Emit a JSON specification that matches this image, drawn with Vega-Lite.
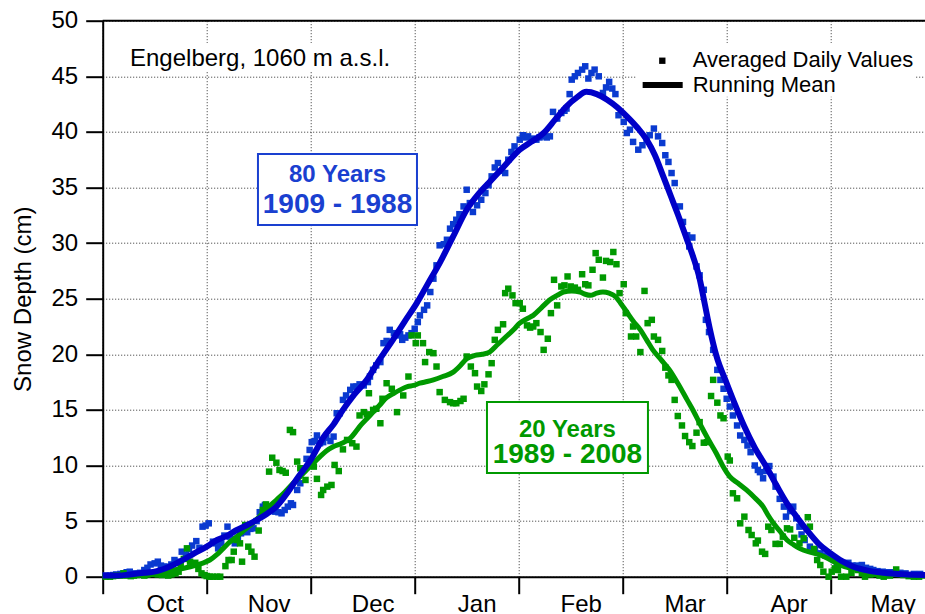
{
"$schema": "https://vega.github.io/schema/vega-lite/v6.json",
"width": 822.3, "height": 556,
"autosize": {"type": "none"},
"padding": {"left": 102.7, "top": 20.7, "right": 0, "bottom": 37.3},
"background": "white",
"config": {"view": {"stroke": null}, "font": "Liberation Sans", "text": {"font": "Liberation Sans"}},
"datasets": {
"bluePts": [
{"x":0.03,"y":0.1},{"x":0.07,"y":0.1},{"x":0.1,"y":0.15},{"x":0.13,"y":0.2},{"x":0.17,"y":0.25},{"x":0.2,"y":0.3},{"x":0.23,"y":0.4},{"x":0.26,"y":0.45},{"x":0.3,"y":0.3},{"x":0.33,"y":0.2},{"x":0.36,"y":0.35},{"x":0.4,"y":0.6},{"x":0.43,"y":0.8},{"x":0.46,"y":1.1},{"x":0.5,"y":1.2},{"x":0.53,"y":1.35},{"x":0.56,"y":1.0},{"x":0.59,"y":0.9},{"x":0.62,"y":0.9},{"x":0.66,"y":1.1},{"x":0.69,"y":1.5},{"x":0.73,"y":1.35},{"x":0.76,"y":2.25},{"x":0.8,"y":2.0},{"x":0.83,"y":2.5},{"x":0.86,"y":2.8},{"x":0.9,"y":3.2},{"x":0.93,"y":2.6},{"x":0.96,"y":4.5},{"x":0.99,"y":4.6},{"x":1.02,"y":4.8},{"x":1.06,"y":3.15},{"x":1.09,"y":3.0},{"x":1.11,"y":2.55},{"x":1.14,"y":3.0},{"x":1.17,"y":3.7},{"x":1.2,"y":4.5},{"x":1.22,"y":3.6},{"x":1.25,"y":3.4},{"x":1.27,"y":3.0},{"x":1.3,"y":3.5},{"x":1.33,"y":3.9},{"x":1.36,"y":4.2},{"x":1.39,"y":4.0},{"x":1.42,"y":4.3},{"x":1.45,"y":4.35},{"x":1.48,"y":5.0},{"x":1.51,"y":5.8},{"x":1.54,"y":6.3},{"x":1.56,"y":6.45},{"x":1.59,"y":6.2},{"x":1.62,"y":5.9},{"x":1.66,"y":5.85},{"x":1.69,"y":5.8},{"x":1.72,"y":5.7},{"x":1.75,"y":6.0},{"x":1.78,"y":6.3},{"x":1.81,"y":6.6},{"x":1.83,"y":6.45},{"x":1.87,"y":7.8},{"x":1.9,"y":8.4},{"x":1.93,"y":9.75},{"x":1.96,"y":10.6},{"x":1.99,"y":11.4},{"x":2.01,"y":12.1},{"x":2.04,"y":12.2},{"x":2.06,"y":12.7},{"x":2.09,"y":12.0},{"x":2.12,"y":12.1},{"x":2.15,"y":12.5},{"x":2.19,"y":12.2},{"x":2.22,"y":12.6},{"x":2.25,"y":14.7},{"x":2.28,"y":14.7},{"x":2.31,"y":15.9},{"x":2.34,"y":16.3},{"x":2.38,"y":16.8},{"x":2.41,"y":17.1},{"x":2.44,"y":17.1},{"x":2.47,"y":17.3},{"x":2.51,"y":17.2},{"x":2.55,"y":17.5},{"x":2.57,"y":18.0},{"x":2.6,"y":18.6},{"x":2.63,"y":19.0},{"x":2.67,"y":19.3},{"x":2.7,"y":21.0},{"x":2.73,"y":21.2},{"x":2.76,"y":22.2},{"x":2.8,"y":21.9},{"x":2.83,"y":21.7},{"x":2.86,"y":21.8},{"x":2.88,"y":21.3},{"x":2.91,"y":21.5},{"x":2.94,"y":21.7},{"x":2.97,"y":21.9},{"x":3.0,"y":22.3},{"x":3.03,"y":22.9},{"x":3.05,"y":23.5},{"x":3.09,"y":24.0},{"x":3.12,"y":24.4},{"x":3.15,"y":25.6},{"x":3.18,"y":26.8},{"x":3.21,"y":28.0},{"x":3.24,"y":29.8},{"x":3.28,"y":29.9},{"x":3.31,"y":30.3},{"x":3.34,"y":31.3},{"x":3.37,"y":31.7},{"x":3.4,"y":32.1},{"x":3.43,"y":32.6},{"x":3.47,"y":33.3},{"x":3.5,"y":34.8},{"x":3.53,"y":33.6},{"x":3.56,"y":32.8},{"x":3.6,"y":33.4},{"x":3.64,"y":33.9},{"x":3.68,"y":34.5},{"x":3.71,"y":35.2},{"x":3.74,"y":36.0},{"x":3.77,"y":36.8},{"x":3.8,"y":37.2},{"x":3.84,"y":36.5},{"x":3.87,"y":36.3},{"x":3.9,"y":37.5},{"x":3.93,"y":38.2},{"x":3.96,"y":38.7},{"x":4.01,"y":39.3},{"x":4.04,"y":39.7},{"x":4.07,"y":39.5},{"x":4.09,"y":39.6},{"x":4.13,"y":39.4},{"x":4.17,"y":39.3},{"x":4.2,"y":39.5},{"x":4.24,"y":39.6},{"x":4.27,"y":39.5},{"x":4.3,"y":39.6},{"x":4.33,"y":41.8},{"x":4.37,"y":41.2},{"x":4.41,"y":41.7},{"x":4.44,"y":41.9},{"x":4.46,"y":42.1},{"x":4.49,"y":43.4},{"x":4.51,"y":44.7},{"x":4.54,"y":45.0},{"x":4.57,"y":45.3},{"x":4.61,"y":45.6},{"x":4.64,"y":45.9},{"x":4.67,"y":44.8},{"x":4.7,"y":45.3},{"x":4.73,"y":45.6},{"x":4.77,"y":45.0},{"x":4.81,"y":43.5},{"x":4.84,"y":44.0},{"x":4.87,"y":44.5},{"x":4.9,"y":43.9},{"x":4.93,"y":43.4},{"x":4.96,"y":41.5},{"x":5.01,"y":40.9},{"x":5.04,"y":39.9},{"x":5.07,"y":40.2},{"x":5.1,"y":39.1},{"x":5.15,"y":38.4},{"x":5.19,"y":38.8},{"x":5.23,"y":39.3},{"x":5.26,"y":39.7},{"x":5.3,"y":40.3},{"x":5.34,"y":39.6},{"x":5.38,"y":39.0},{"x":5.41,"y":37.9},{"x":5.44,"y":37.3},{"x":5.47,"y":36.3},{"x":5.5,"y":35.4},{"x":5.55,"y":33.3},{"x":5.58,"y":31.9},{"x":5.62,"y":30.7},{"x":5.64,"y":29.7},{"x":5.67,"y":30.5},{"x":5.71,"y":27.9},{"x":5.74,"y":27.1},{"x":5.78,"y":25.8},{"x":5.8,"y":23.1},{"x":5.83,"y":22.0},{"x":5.87,"y":20.4},{"x":5.91,"y":18.6},{"x":5.94,"y":17.7},{"x":5.97,"y":16.9},{"x":6.0,"y":16.0},{"x":6.03,"y":15.3},{"x":6.06,"y":14.5},{"x":6.1,"y":13.6},{"x":6.13,"y":12.7},{"x":6.17,"y":12.3},{"x":6.2,"y":11.8},{"x":6.23,"y":11.2},{"x":6.27,"y":10.0},{"x":6.3,"y":9.6},{"x":6.32,"y":9.4},{"x":6.35,"y":8.85},{"x":6.38,"y":9.5},{"x":6.41,"y":9.95},{"x":6.45,"y":9.0},{"x":6.47,"y":8.1},{"x":6.51,"y":7.0},{"x":6.55,"y":6.3},{"x":6.57,"y":5.4},{"x":6.61,"y":5.9},{"x":6.64,"y":6.3},{"x":6.67,"y":5.25},{"x":6.7,"y":4.5},{"x":6.72,"y":3.8},{"x":6.75,"y":3.3},{"x":6.8,"y":2.7},{"x":6.85,"y":2.4},{"x":6.9,"y":2.1},{"x":6.95,"y":1.9},{"x":7.0,"y":1.8},{"x":7.03,"y":1.5},{"x":7.06,"y":1.2},{"x":7.1,"y":1.1},{"x":7.13,"y":1.2},{"x":7.17,"y":1.25},{"x":7.21,"y":1.0},{"x":7.25,"y":1.0},{"x":7.3,"y":1.05},{"x":7.34,"y":0.8},{"x":7.38,"y":0.7},{"x":7.41,"y":0.6},{"x":7.45,"y":0.5},{"x":7.5,"y":0.45},{"x":7.55,"y":0.4},{"x":7.6,"y":0.4},{"x":7.67,"y":0.35},{"x":7.72,"y":0.3},{"x":7.8,"y":0.25},{"x":7.86,"y":0.25}
],
"greenPts": [
{"x":0.03,"y":0.0},{"x":0.07,"y":0.0},{"x":0.1,"y":0.05},{"x":0.13,"y":0.1},{"x":0.17,"y":0.1},{"x":0.2,"y":0.3},{"x":0.23,"y":0.1},{"x":0.27,"y":0.05},{"x":0.3,"y":0.1},{"x":0.33,"y":0.15},{"x":0.37,"y":0.2},{"x":0.4,"y":0.1},{"x":0.43,"y":0.2},{"x":0.47,"y":0.25},{"x":0.5,"y":0.3},{"x":0.53,"y":0.2},{"x":0.57,"y":0.15},{"x":0.6,"y":0.3},{"x":0.63,"y":0.1},{"x":0.66,"y":0.2},{"x":0.7,"y":0.3},{"x":0.73,"y":0.45},{"x":0.75,"y":1.05},{"x":0.78,"y":1.6},{"x":0.81,"y":2.55},{"x":0.84,"y":1.35},{"x":0.87,"y":1.1},{"x":0.89,"y":1.25},{"x":0.92,"y":0.7},{"x":0.95,"y":0.3},{"x":0.98,"y":0.15},{"x":1.0,"y":0.06},{"x":1.03,"y":0.0},{"x":1.06,"y":0.0},{"x":1.1,"y":0.0},{"x":1.13,"y":0.0},{"x":1.18,"y":0.95},{"x":1.21,"y":1.5},{"x":1.24,"y":1.5},{"x":1.26,"y":2.25},{"x":1.29,"y":3.3},{"x":1.32,"y":3.0},{"x":1.34,"y":1.35},{"x":1.37,"y":4.65},{"x":1.4,"y":2.7},{"x":1.43,"y":2.25},{"x":1.46,"y":1.8},{"x":1.5,"y":4.15},{"x":1.54,"y":6.0},{"x":1.57,"y":6.5},{"x":1.6,"y":9.45},{"x":1.63,"y":10.7},{"x":1.67,"y":10.25},{"x":1.7,"y":9.6},{"x":1.73,"y":9.5},{"x":1.76,"y":9.35},{"x":1.8,"y":13.2},{"x":1.83,"y":13.0},{"x":1.87,"y":10.35},{"x":1.9,"y":9.75},{"x":1.95,"y":8.7},{"x":1.99,"y":10.05},{"x":2.03,"y":9.9},{"x":2.06,"y":8.8},{"x":2.1,"y":7.35},{"x":2.12,"y":7.8},{"x":2.16,"y":8.1},{"x":2.2,"y":8.25},{"x":2.23,"y":10.05},{"x":2.27,"y":9.5},{"x":2.31,"y":11.45},{"x":2.35,"y":12.3},{"x":2.4,"y":12.0},{"x":2.44,"y":11.7},{"x":2.47,"y":14.5},{"x":2.51,"y":14.8},{"x":2.54,"y":14.6},{"x":2.56,"y":16.5},{"x":2.6,"y":15.0},{"x":2.63,"y":15.1},{"x":2.67,"y":13.8},{"x":2.69,"y":16.0},{"x":2.73,"y":17.4},{"x":2.78,"y":16.9},{"x":2.83,"y":14.8},{"x":2.89,"y":16.3},{"x":2.94,"y":18.0},{"x":2.97,"y":21.7},{"x":3.01,"y":21.0},{"x":3.03,"y":21.7},{"x":3.08,"y":21.0},{"x":3.1,"y":19.3},{"x":3.14,"y":20.2},{"x":3.18,"y":20.1},{"x":3.21,"y":18.9},{"x":3.24,"y":16.6},{"x":3.29,"y":15.9},{"x":3.34,"y":15.7},{"x":3.37,"y":15.6},{"x":3.4,"y":15.6},{"x":3.44,"y":15.8},{"x":3.47,"y":16.0},{"x":3.5,"y":19.8},{"x":3.54,"y":18.9},{"x":3.58,"y":18.3},{"x":3.6,"y":17.1},{"x":3.64,"y":16.7},{"x":3.67,"y":17.3},{"x":3.71,"y":18.2},{"x":3.74,"y":19.2},{"x":3.77,"y":21.3},{"x":3.8,"y":22.2},{"x":3.85,"y":22.7},{"x":3.87,"y":25.5},{"x":3.9,"y":25.9},{"x":3.94,"y":25.3},{"x":3.97,"y":24.6},{"x":4.01,"y":24.6},{"x":4.04,"y":24.1},{"x":4.08,"y":22.6},{"x":4.11,"y":22.4},{"x":4.14,"y":22.5},{"x":4.17,"y":22.8},{"x":4.21,"y":22.0},{"x":4.24,"y":20.4},{"x":4.28,"y":21.4},{"x":4.31,"y":23.7},{"x":4.34,"y":26.7},{"x":4.37,"y":24.4},{"x":4.41,"y":26.1},{"x":4.44,"y":26.2},{"x":4.47,"y":27.0},{"x":4.5,"y":26.1},{"x":4.54,"y":26.0},{"x":4.57,"y":25.8},{"x":4.61,"y":27.2},{"x":4.64,"y":26.3},{"x":4.67,"y":26.2},{"x":4.71,"y":27.6},{"x":4.74,"y":29.1},{"x":4.77,"y":28.5},{"x":4.81,"y":26.9},{"x":4.84,"y":28.4},{"x":4.88,"y":28.3},{"x":4.91,"y":29.2},{"x":4.94,"y":28.1},{"x":4.97,"y":25.5},{"x":5.01,"y":26.3},{"x":5.03,"y":23.7},{"x":5.08,"y":21.6},{"x":5.1,"y":22.5},{"x":5.13,"y":21.6},{"x":5.17,"y":20.2},{"x":5.21,"y":25.7},{"x":5.24,"y":22.8},{"x":5.28,"y":23.1},{"x":5.3,"y":21.6},{"x":5.34,"y":21.3},{"x":5.38,"y":20.3},{"x":5.41,"y":18.8},{"x":5.44,"y":18.1},{"x":5.47,"y":17.7},{"x":5.5,"y":15.9},{"x":5.53,"y":14.45},{"x":5.57,"y":13.6},{"x":5.6,"y":12.65},{"x":5.64,"y":12.1},{"x":5.67,"y":11.75},{"x":5.71,"y":12.95},{"x":5.74,"y":13.9},{"x":5.78,"y":12.05},{"x":5.81,"y":12.1},{"x":5.85,"y":16.25},{"x":5.87,"y":17.7},{"x":5.91,"y":15.65},{"x":5.94,"y":14.5},{"x":5.97,"y":14.25},{"x":6.01,"y":10.8},{"x":6.03,"y":10.45},{"x":6.06,"y":7.5},{"x":6.1,"y":7.05},{"x":6.13,"y":4.8},{"x":6.17,"y":5.4},{"x":6.21,"y":4.2},{"x":6.24,"y":3.75},{"x":6.28,"y":3.0},{"x":6.3,"y":3.25},{"x":6.34,"y":2.25},{"x":6.37,"y":2.05},{"x":6.4,"y":4.5},{"x":6.43,"y":4.2},{"x":6.47,"y":2.95},{"x":6.51,"y":2.95},{"x":6.54,"y":3.6},{"x":6.58,"y":4.35},{"x":6.61,"y":4.25},{"x":6.65,"y":3.5},{"x":6.7,"y":3.0},{"x":6.74,"y":3.45},{"x":6.78,"y":5.35},{"x":6.8,"y":4.5},{"x":6.84,"y":2.5},{"x":6.87,"y":1.5},{"x":6.9,"y":1.05},{"x":6.93,"y":0.45},{"x":6.98,"y":0.0},{"x":7.01,"y":0.45},{"x":7.04,"y":0.75},{"x":7.07,"y":0.6},{"x":7.1,"y":0.0},{"x":7.15,"y":0.0},{"x":7.2,"y":0.35},{"x":7.26,"y":0.6},{"x":7.3,"y":0.3},{"x":7.33,"y":0.0},{"x":7.38,"y":0.2},{"x":7.43,"y":0.25},{"x":7.47,"y":0.1},{"x":7.51,"y":0.0},{"x":7.57,"y":0.1},{"x":7.63,"y":0.65},{"x":7.7,"y":0.15},{"x":7.75,"y":0.05},{"x":7.8,"y":0.0},{"x":7.85,"y":0.0}
],
"blueMean": [
{"x":0.0,"y":0.1},{"x":0.15,"y":0.1},{"x":0.26,"y":0.2},{"x":0.4,"y":0.35},{"x":0.52,"y":0.5},{"x":0.64,"y":0.9},{"x":0.75,"y":1.4},{"x":0.88,"y":2.1},{"x":1.0,"y":2.7},{"x":1.1,"y":3.3},{"x":1.2,"y":3.7},{"x":1.29,"y":4.2},{"x":1.38,"y":4.6},{"x":1.48,"y":5.1},{"x":1.57,"y":5.6},{"x":1.67,"y":6.3},{"x":1.78,"y":7.6},{"x":1.86,"y":8.7},{"x":1.93,"y":9.6},{"x":2.0,"y":10.5},{"x":2.06,"y":11.5},{"x":2.12,"y":12.5},{"x":2.22,"y":13.7},{"x":2.31,"y":15.0},{"x":2.42,"y":16.4},{"x":2.54,"y":17.7},{"x":2.66,"y":19.5},{"x":2.79,"y":21.3},{"x":2.9,"y":22.9},{"x":3.02,"y":24.6},{"x":3.13,"y":26.4},{"x":3.24,"y":28.2},{"x":3.37,"y":30.6},{"x":3.5,"y":33.0},{"x":3.62,"y":34.5},{"x":3.73,"y":35.6},{"x":3.85,"y":36.8},{"x":4.01,"y":38.4},{"x":4.12,"y":39.1},{"x":4.24,"y":39.9},{"x":4.35,"y":41.1},{"x":4.46,"y":42.3},{"x":4.56,"y":43.1},{"x":4.65,"y":43.6},{"x":4.75,"y":43.4},{"x":4.85,"y":42.9},{"x":4.95,"y":42.2},{"x":5.04,"y":41.4},{"x":5.14,"y":40.4},{"x":5.23,"y":39.3},{"x":5.31,"y":37.9},{"x":5.39,"y":36.0},{"x":5.46,"y":34.3},{"x":5.53,"y":32.6},{"x":5.615,"y":30.4},{"x":5.68,"y":28.7},{"x":5.74,"y":26.8},{"x":5.79,"y":24.5},{"x":5.84,"y":22.2},{"x":5.9,"y":19.9},{"x":6.0,"y":17.4},{"x":6.08,"y":15.5},{"x":6.17,"y":13.5},{"x":6.27,"y":11.6},{"x":6.38,"y":9.9},{"x":6.48,"y":8.2},{"x":6.58,"y":6.6},{"x":6.68,"y":5.3},{"x":6.77,"y":4.2},{"x":6.88,"y":3.0},{"x":7.0,"y":2.1},{"x":7.11,"y":1.4},{"x":7.22,"y":0.9},{"x":7.36,"y":0.55},{"x":7.51,"y":0.36},{"x":7.7,"y":0.22},{"x":7.91,"y":0.15}
],
"greenMean": [
{"x":0.0,"y":0.0},{"x":0.2,"y":0.1},{"x":0.36,"y":0.25},{"x":0.52,"y":0.4},{"x":0.68,"y":0.6},{"x":0.8,"y":0.8},{"x":0.9,"y":1.05},{"x":0.97,"y":1.25},{"x":1.03,"y":1.5},{"x":1.1,"y":2.0},{"x":1.16,"y":2.55},{"x":1.22,"y":3.1},{"x":1.29,"y":3.6},{"x":1.35,"y":4.1},{"x":1.42,"y":4.65},{"x":1.48,"y":5.15},{"x":1.54,"y":5.7},{"x":1.6,"y":6.3},{"x":1.67,"y":6.9},{"x":1.75,"y":7.6},{"x":1.83,"y":8.4},{"x":1.9,"y":9.0},{"x":1.96,"y":9.6},{"x":2.03,"y":10.25},{"x":2.09,"y":10.8},{"x":2.15,"y":11.3},{"x":2.22,"y":11.7},{"x":2.3,"y":12.0},{"x":2.38,"y":12.45},{"x":2.43,"y":13.0},{"x":2.47,"y":13.5},{"x":2.54,"y":14.2},{"x":2.6,"y":14.8},{"x":2.66,"y":15.4},{"x":2.73,"y":16.1},{"x":2.8,"y":16.5},{"x":2.86,"y":16.8},{"x":2.93,"y":17.1},{"x":2.99,"y":17.2},{"x":3.05,"y":17.4},{"x":3.12,"y":17.55},{"x":3.18,"y":17.7},{"x":3.27,"y":18.0},{"x":3.37,"y":18.4},{"x":3.44,"y":19.0},{"x":3.5,"y":19.6},{"x":3.58,"y":19.9},{"x":3.65,"y":20.0},{"x":3.72,"y":20.2},{"x":3.8,"y":20.9},{"x":3.88,"y":21.6},{"x":3.95,"y":22.2},{"x":4.01,"y":22.8},{"x":4.08,"y":23.2},{"x":4.14,"y":23.5},{"x":4.22,"y":24.2},{"x":4.3,"y":24.9},{"x":4.37,"y":25.3},{"x":4.43,"y":25.6},{"x":4.51,"y":25.7},{"x":4.59,"y":25.6},{"x":4.64,"y":25.4},{"x":4.69,"y":25.3},{"x":4.75,"y":25.5},{"x":4.81,"y":25.6},{"x":4.87,"y":25.5},{"x":4.93,"y":25.2},{"x":4.98,"y":24.6},{"x":5.04,"y":23.8},{"x":5.1,"y":23.0},{"x":5.17,"y":22.2},{"x":5.23,"y":21.3},{"x":5.29,"y":20.4},{"x":5.37,"y":19.5},{"x":5.45,"y":18.6},{"x":5.53,"y":17.4},{"x":5.62,"y":15.9},{"x":5.68,"y":14.9},{"x":5.74,"y":13.8},{"x":5.82,"y":12.4},{"x":5.9,"y":11.1},{"x":5.96,"y":10.0},{"x":6.03,"y":9.0},{"x":6.11,"y":8.4},{"x":6.19,"y":7.8},{"x":6.27,"y":7.1},{"x":6.35,"y":6.3},{"x":6.4,"y":5.5},{"x":6.45,"y":4.8},{"x":6.52,"y":4.0},{"x":6.58,"y":3.3},{"x":6.64,"y":2.9},{"x":6.7,"y":2.55},{"x":6.8,"y":2.2},{"x":6.9,"y":1.95},{"x":7.0,"y":1.5},{"x":7.09,"y":1.05},{"x":7.22,"y":0.7},{"x":7.35,"y":0.45},{"x":7.5,"y":0.28},{"x":7.67,"y":0.15},{"x":7.91,"y":0.05}
],
"bg": [
{"x":0.215,"x2":2.81,"y":45.39,"y2":48.0},
{"x":5.135,"x2":7.81,"y":43.17,"y2":48.0}
],
"boxBlue": [{"x":1.493,"x2":3.022,"y":31.63,"y2":38.01}],
"boxGreen": [{"x":3.695,"x2":5.243,"y":9.33,"y2":15.71}],
"blueSmall": [{"x":2.258,"y":35.47,"t":"80 Years"}],
"blueBig": [{"x":2.258,"y":32.72,"t":"1909 - 1988"}],
"greenSmall": [{"x":4.469,"y":12.6,"t":"20 Years"}],
"greenBig": [{"x":4.469,"y":10.22,"t":"1989 - 2008"}],
"station": [{"x":0.2625,"y":45.95,"t":"Engelberg, 1060 m a.s.l."}],
"legText": [{"x":5.673,"y":45.87,"t":"Averaged Daily Values"},{"x":5.673,"y":43.62,"t":"Running Mean"}],
"legSym": [{"x":5.381,"y":46.4}],
"legLine": [{"x":5.192,"x2":5.577,"y":44.22}],
"frame": [{"y":50}]
},
"layer": [
{
"data": {"name": "bg"},
"mark": {"type": "rect", "fill": "white", "stroke": null},
"encoding": {
"x": {"field": "x", "type": "quantitative",
 "scale": {"domain": [0, 7.907], "nice": false, "zero": false},
 "axis": {"values": [0,1,2,3,4,5,6,7],
  "labelExpr": "['Oct','Nov','Dec','Jan','Feb','Mar','Apr','May'][datum.value]",
  "labelOffset": 62, "labelAlign": "center", "labelPadding": -1.5,
  "labelFontSize": 24, "labelColor": "black", "labelFont": "Liberation Sans",
  "labelOverlap": false, "labelBound": false, "labelFlush": false,
  "tickSize": 17, "tickColor": "black", "tickWidth": 2,
  "domainColor": "black", "domainWidth": 2,
  "grid": true, "gridColor": "#333333", "gridDash": [1, 2], "gridWidth": 1, "gridOpacity": 1,
  "title": null}},
"x2": {"field": "x2"},
"y": {"field": "y", "type": "quantitative",
 "scale": {"domain": [0, 50], "nice": false, "zero": false},
 "axis": {"values": [0,5,10,15,20,25,30,35,40,45,50],
  "labelFontSize": 24, "labelColor": "black", "labelFont": "Liberation Sans", "labelPadding": 8,
  "tickSize": 17, "tickColor": "black", "tickWidth": 2,
  "domainColor": "black", "domainWidth": 2,
  "grid": true, "gridColor": "#333333", "gridDash": [1, 2], "gridWidth": 1, "gridOpacity": 1,
  "title": "Snow Depth (cm)", "titleFontSize": 24, "titleFontWeight": "normal", "titleColor": "black",
  "titleFont": "Liberation Sans", "titlePadding": 16}},
"y2": {"field": "y2"}
}
},
{
"data": {"name": "bluePts"},
"mark": {"type": "point", "shape": "square", "filled": true, "color": "#0a3ad0", "size": 42, "opacity": 1},
"encoding": {"x": {"field": "x", "type": "quantitative"}, "y": {"field": "y", "type": "quantitative"}}
},
{
"data": {"name": "greenPts"},
"mark": {"type": "point", "shape": "square", "filled": true, "color": "#009900", "size": 42, "opacity": 1},
"encoding": {"x": {"field": "x", "type": "quantitative"}, "y": {"field": "y", "type": "quantitative"}}
},
{
"data": {"name": "greenMean"},
"mark": {"type": "line", "color": "#009900", "strokeWidth": 5, "interpolate": "monotone"},
"encoding": {"x": {"field": "x", "type": "quantitative"}, "y": {"field": "y", "type": "quantitative"}}
},
{
"data": {"name": "blueMean"},
"mark": {"type": "line", "color": "#0000c8", "strokeWidth": 6, "interpolate": "monotone"},
"encoding": {"x": {"field": "x", "type": "quantitative"}, "y": {"field": "y", "type": "quantitative"}}
},
{
"data": {"name": "frame"},
"mark": {"type": "rule", "color": "black", "strokeWidth": 2},
"encoding": {"y": {"field": "y", "type": "quantitative"}}
},
{
"data": {"name": "boxBlue"},
"mark": {"type": "rect", "fill": "white", "stroke": "#1a40d0", "strokeWidth": 2},
"encoding": {"x": {"field": "x", "type": "quantitative"}, "x2": {"field": "x2"}, "y": {"field": "y", "type": "quantitative"}, "y2": {"field": "y2"}}
},
{
"data": {"name": "boxGreen"},
"mark": {"type": "rect", "fill": "white", "stroke": "#009900", "strokeWidth": 2},
"encoding": {"x": {"field": "x", "type": "quantitative"}, "x2": {"field": "x2"}, "y": {"field": "y", "type": "quantitative"}, "y2": {"field": "y2"}}
},
{
"data": {"name": "blueSmall"},
"mark": {"type": "text", "font": "Liberation Sans", "fontSize": 24, "fontWeight": "bold", "color": "#1a40d0", "align": "center", "baseline": "alphabetic"},
"encoding": {"x": {"field": "x", "type": "quantitative"}, "y": {"field": "y", "type": "quantitative"}, "text": {"field": "t"}}
},
{
"data": {"name": "blueBig"},
"mark": {"type": "text", "font": "Liberation Sans", "fontSize": 28, "fontWeight": "bold", "color": "#1a40d0", "align": "center", "baseline": "alphabetic"},
"encoding": {"x": {"field": "x", "type": "quantitative"}, "y": {"field": "y", "type": "quantitative"}, "text": {"field": "t"}}
},
{
"data": {"name": "greenSmall"},
"mark": {"type": "text", "font": "Liberation Sans", "fontSize": 24, "fontWeight": "bold", "color": "#009900", "align": "center", "baseline": "alphabetic"},
"encoding": {"x": {"field": "x", "type": "quantitative"}, "y": {"field": "y", "type": "quantitative"}, "text": {"field": "t"}}
},
{
"data": {"name": "greenBig"},
"mark": {"type": "text", "font": "Liberation Sans", "fontSize": 28, "fontWeight": "bold", "color": "#009900", "align": "center", "baseline": "alphabetic"},
"encoding": {"x": {"field": "x", "type": "quantitative"}, "y": {"field": "y", "type": "quantitative"}, "text": {"field": "t"}}
},
{
"data": {"name": "station"},
"mark": {"type": "text", "font": "Liberation Sans", "fontSize": 24, "color": "black", "align": "left", "baseline": "alphabetic"},
"encoding": {"x": {"field": "x", "type": "quantitative"}, "y": {"field": "y", "type": "quantitative"}, "text": {"field": "t"}}
},
{
"data": {"name": "legText"},
"mark": {"type": "text", "font": "Liberation Sans", "fontSize": 22, "color": "black", "align": "left", "baseline": "alphabetic"},
"encoding": {"x": {"field": "x", "type": "quantitative"}, "y": {"field": "y", "type": "quantitative"}, "text": {"field": "t"}}
},
{
"data": {"name": "legSym"},
"mark": {"type": "point", "shape": "square", "filled": true, "color": "black", "size": 40, "opacity": 1},
"encoding": {"x": {"field": "x", "type": "quantitative"}, "y": {"field": "y", "type": "quantitative"}}
},
{
"data": {"name": "legLine"},
"mark": {"type": "rule", "color": "black", "strokeWidth": 6},
"encoding": {"x": {"field": "x", "type": "quantitative"}, "x2": {"field": "x2"}, "y": {"field": "y", "type": "quantitative"}}
}
]
}
